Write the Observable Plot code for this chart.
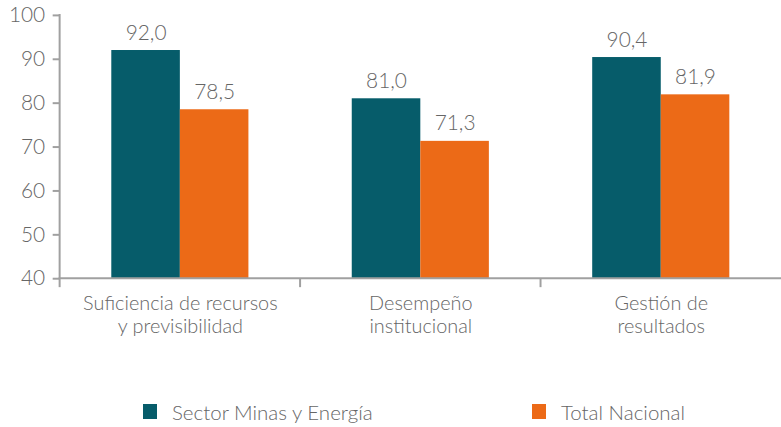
<!DOCTYPE html>
<html>
<head>
<meta charset="utf-8">
<script src="https://cdn.jsdelivr.net/npm/d3@7"></script>
<script src="https://cdn.jsdelivr.net/npm/@observablehq/plot@0.6"></script>
<style>
  html, body { margin: 0; padding: 0; background: #fff; overflow: hidden; }
  body { width: 781px; height: 427px; font-family: Lato, "Open Sans", sans-serif; font-weight: 300; }
  #legend { position: relative; height: 82px; }
  .item { position: absolute; top: 61px; height: 16px; display: flex; align-items: center; font-size: 20.5px; color: #666; }
  .sw { width: 14px; height: 15px; margin-right: 15px; flex: none; }
</style>
</head>
<body>
<div id="chart"></div>
<div id="legend"></div>
<script>
const categories = ["Suficiencia de recursos y previsibilidad", "Desempeño institucional", "Gestión de resultados"];
const categoryLabels = ["Suficiencia de recursos\ny previsibilidad", "Desempeño\ninstitucional", "Gestión de\nresultados"];
const series = ["Sector Minas y Energía", "Total Nacional"];
const sectorValues = [92.0, 81.0, 90.4];
const nacionalValues = [78.5, 71.3, 81.9];
const yTicks = [40, 50, 60, 70, 80, 90, 100];
const colors = ["#065c6a", "#ec6a17"];

const data = [];
categories.forEach((c, i) => {
  data.push({cat: c, serie: series[0], value: sectorValues[i]});
  data.push({cat: c, serie: series[1], value: nacionalValues[i]});
});
const labelOf = new Map(categories.map((c, i) => [c, categoryLabels[i]]));
const fmt = v => v.toFixed(1).replace(".", ",");
const font = "Lato, 'Open Sans', sans-serif";

const chart = Plot.plot({
  width: 786,
  height: 345,
  marginLeft: 60,
  marginRight: 0,
  marginTop: 15,
  marginBottom: 65,
  style: {fontFamily: font, fontWeight: 300, color: "#666", background: "#fff"},
  fx: {domain: categories, padding: 0, label: null},
  x: {domain: series, paddingInner: 0, paddingOuter: 0.74, axis: null},
  y: {domain: [40, 100], ticks: yTicks, label: null},
  color: {domain: series, range: colors},
  marks: [
    Plot.axisY({ticks: yTicks, tickSize: 7, tickPadding: 8, fontSize: 21, stroke: "#a0a0a0", strokeWidth: 2, fill: "#666", label: null}),
    Plot.axisFx({anchor: "bottom", tickSize: 0, tickPadding: 14, fontSize: 20, lineHeight: 1.2, fill: "#666", tickFormat: c => labelOf.get(c), label: null}),
    Plot.barY(data, {fx: "cat", x: "serie", y1: 40, y2: "value", fill: "serie"}),
    Plot.text(data, {fx: "cat", x: "serie", y: "value", text: d => fmt(d.value), lineAnchor: "bottom", dy: -11, fontSize: 21, fill: "#666"})
  ]
});
document.getElementById("chart").appendChild(chart);

// axis lines and category separators drawn from the plot's own scales
const sy = chart.scale("y");
const sfx = chart.scale("fx");
const svg = d3.select(chart);
const yTop = sy.apply(100), yBottom = sy.apply(40);
const xLeft = sfx.apply(categories[0]);
const g = svg.append("g").attr("stroke", "#a0a0a0").attr("stroke-width", 2);
g.append("line").attr("x1", xLeft).attr("x2", xLeft).attr("y1", yTop - 1).attr("y2", yBottom);
g.append("line").attr("x1", xLeft - 1).attr("x2", sfx.apply(categories[categories.length - 1]) + sfx.bandwidth).attr("y1", yBottom).attr("y2", yBottom);
categories.forEach(c => {
  const x = sfx.apply(c);
  g.append("line").attr("x1", x).attr("x2", x).attr("y1", yBottom).attr("y2", yBottom + 9);
});

// legend
const legend = document.getElementById("legend");
const lefts = [143, 532];
series.forEach((s, i) => {
  const it = document.createElement("div");
  it.className = "item";
  it.style.left = lefts[i] + "px";
  it.innerHTML = `<span class="sw" style="background:${colors[i]}"></span><span>${s}</span>`;
  legend.appendChild(it);
});
</script>
</body>
</html>
